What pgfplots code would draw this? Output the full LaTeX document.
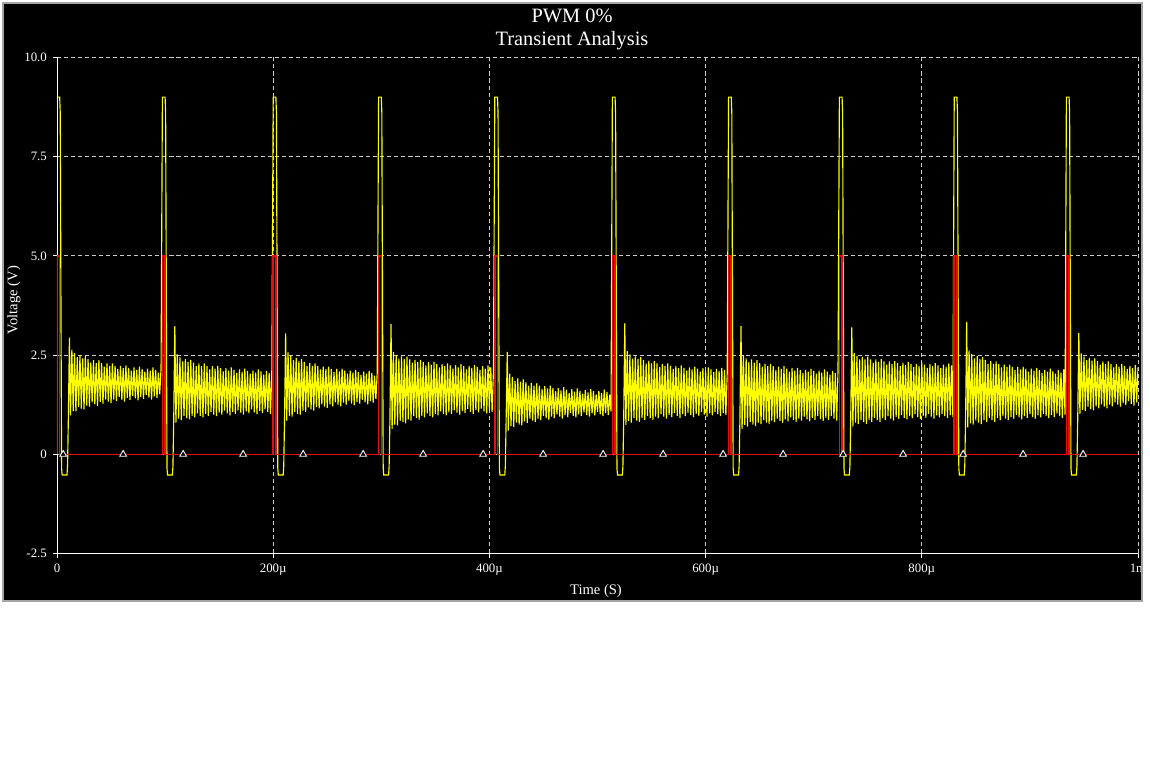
\documentclass[border=0pt]{standalone}
\usepackage{fontspec}
\setmainfont{Liberation Serif}
\usepackage{pgfplots}
\pgfplotsset{compat=1.18}
\definecolor{trace1}{RGB}{255,255,0}
\definecolor{trace2}{RGB}{228,16,16}
\definecolor{gridcol}{RGB}{205,205,205}
\definecolor{framecol}{RGB}{165,165,165}
\begin{document}
\begin{tikzpicture}
\useasboundingbox (0,0) rectangle (23,15.38);
\fill[white] (0,0) rectangle (23,15.38);
\fill[black] (0.08,3.38) rectangle (22.82,15.30);
\node[white, font=\fontsize{11.6}{13}\selectfont, anchor=base, inner sep=0pt] at (11.44,14.93) {PWM 0\%};
\node[white, font=\fontsize{11.6}{13}\selectfont, anchor=base, inner sep=0pt] at (11.44,14.46) {Transient Analysis};
\begin{axis}[
  at={(1.14cm,4.31cm)}, anchor=south west,
  scale only axis, width=21.62cm, height=9.92cm,
  xmin=0, xmax=1000, ymin=-2.5, ymax=10,
  axis lines=left, axis line style={-, white, line width=0.55pt},
  xtick={0,200,400,600,800,1000},
  xticklabels={0,200µ,400µ,600µ,800µ,1m},
  ytick={-2.5,0,2.5,5,7.5,10},
  yticklabels={-2.5,0,2.5,5.0,7.5,10.0},
  tick align=outside, major tick length=0.08cm,
  tick style={white, line width=0.55pt},
  tick label style={white, font=\fontsize{7.3}{8}\selectfont},
  grid=major,
  major grid style={gridcol, line width=0.55pt, dash pattern=on 2.3pt off 1.7pt},
  xlabel={Time (S)}, ylabel={Voltage (V)},
  label style={white, font=\fontsize{8.3}{10}\selectfont},
  xlabel style={at={(axis description cs:0.4986,-0.076)}, anchor=center},
  ylabel style={at={(axis description cs:-0.0398,0.511)}, anchor=center},
]
% output voltage (yellow)
\addplot[trace1, line width=0.65pt] coordinates {
(0,9)(2.5,9)(3,8.6)(3.25,6.7)(4.25,-0.35)(4.75,-0.52)(9.25,-0.52)(9.75,-0.3)(10.5,0.9)(11.5,2.94)
(12.5,0.98)(13.75,2.64)(15,1.09)(16.25,2.55)(17.5,1.08)(18.75,2.45)(20,1.19)(21.25,2.50)(22.5,1.15)(23.75,2.42)
(25,1.13)(26.25,2.48)(27.5,1.23)(28.75,2.40)(30,1.20)(31.25,2.31)(32.5,1.31)(33.75,2.37)(35,1.26)(36.25,2.30)
(37.5,1.22)(38.75,2.37)(40,1.32)(41.25,2.30)(42.5,1.28)(43.75,2.21)(45,1.38)(46.25,2.29)(47.5,1.33)(48.75,2.22)
(50,1.29)(51.25,2.29)(52.5,1.38)(53.75,2.23)(55,1.34)(56.25,2.15)(57.5,1.44)(58.75,2.23)(60,1.37)(61.25,2.17)
(62.5,1.33)(63.75,2.24)(65,1.42)(66.25,2.18)(67.5,1.37)(68.75,2.11)(70,1.47)(71.25,2.19)(72.5,1.41)(73.75,2.13)
(75,1.36)(76.25,2.21)(77.5,1.45)(78.75,2.15)(80,1.40)(81.25,2.08)(82.5,1.49)(83.75,2.16)(85,1.43)(86.25,2.11)
(87.5,1.38)(88.75,2.19)(90,1.46)(91.25,2.13)(92.5,1.42)(93.75,2.06)(95,1.51)(96.25,2.15)
(97.5,9)(100,9)(100.5,8.6)(100.75,6.7)(101.75,-0.35)(102.25,-0.52)(106.75,-0.52)(107.25,-0.3)(108,0.9)(109,3.23)
(110,0.80)(111.25,2.52)(112.5,0.90)(113.75,2.44)(115,0.86)(116.25,2.34)(117.5,0.97)(118.75,2.40)(120,0.91)(121.25,2.33)
(122.5,0.88)(123.75,2.38)(125,0.97)(126.25,2.31)(127.5,0.93)(128.75,2.22)(130,1.03)(131.25,2.29)(132.5,0.97)(133.75,2.22)
(135,0.93)(136.25,2.29)(137.5,1.01)(138.75,2.22)(140,0.97)(141.25,2.14)(142.5,1.07)(143.75,2.22)(145,1.00)(146.25,2.16)
(147.5,0.96)(148.75,2.23)(150,1.05)(151.25,2.17)(152.5,1.00)(153.75,2.09)(155,1.10)(156.25,2.17)(157.5,1.03)(158.75,2.11)
(160,0.98)(161.25,2.19)(162.5,1.07)(163.75,2.13)(165,1.02)(166.25,2.05)(167.5,1.11)(168.75,2.14)(170,1.05)(171.25,2.08)
(172.5,1.00)(173.75,2.16)(175,1.08)(176.25,2.10)(177.5,1.03)(178.75,2.03)(180,1.13)(181.25,2.11)(182.5,1.06)(183.75,2.06)
(185,1.01)(186.25,2.14)(187.5,1.09)(188.75,2.09)(190,1.04)(191.25,2.01)(192.5,1.13)(193.75,2.10)(195,1.07)(196.25,2.05)
(197.5,1.02)(198.75,2.13)
(200,9)(202.5,9)(203,8.6)(203.25,6.7)(204.25,-0.35)(204.75,-0.52)(209.25,-0.52)(209.75,-0.3)(210.5,0.9)(211.5,3.05)
(212.5,0.85)(213.75,2.57)(215,0.96)(216.25,2.48)(217.5,0.95)(218.75,2.37)(220,1.07)(221.25,2.43)(222.5,1.02)(223.75,2.35)
(225,1.00)(226.25,2.40)(227.5,1.10)(228.75,2.33)(230,1.07)(231.25,2.23)(232.5,1.18)(233.75,2.30)(235,1.13)(236.25,2.23)
(237.5,1.10)(238.75,2.29)(240,1.19)(241.25,2.22)(242.5,1.16)(243.75,2.14)(245,1.26)(246.25,2.21)(247.5,1.20)(248.75,2.15)
(250,1.17)(251.25,2.21)(252.5,1.26)(253.75,2.15)(255,1.21)(256.25,2.07)(257.5,1.31)(258.75,2.15)(260,1.25)(261.25,2.09)
(262.5,1.21)(263.75,2.16)(265,1.30)(266.25,2.11)(267.5,1.25)(268.75,2.03)(270,1.35)(271.25,2.11)(272.5,1.28)(273.75,2.06)
(275,1.24)(276.25,2.13)(277.5,1.32)(278.75,2.07)(280,1.28)(281.25,2.00)(282.5,1.37)(283.75,2.08)(285,1.31)(286.25,2.03)
(287.5,1.26)(288.75,2.11)(290,1.34)(291.25,2.05)(292.5,1.30)(293.75,1.98)(295,1.39)(296.25,2.07)
(297.5,9)(300,9)(300.5,8.6)(300.75,6.7)(301.75,-0.35)(302.25,-0.52)(306.75,-0.52)(307.25,-0.3)(308,0.9)(309,3.28)
(310,0.64)(311.25,2.58)(312.5,0.75)(313.75,2.50)(315,0.73)(316.25,2.41)(317.5,0.85)(318.75,2.47)(320,0.81)(321.25,2.40)
(322.5,0.78)(323.75,2.46)(325,0.88)(326.25,2.39)(327.5,0.85)(328.75,2.31)(330,0.96)(331.25,2.38)(332.5,0.91)(333.75,2.32)
(335,0.87)(336.25,2.38)(337.5,0.97)(338.75,2.32)(340,0.93)(341.25,2.24)(342.5,1.03)(343.75,2.32)(345,0.97)(346.25,2.26)
(347.5,0.93)(348.75,2.33)(350,1.02)(351.25,2.27)(352.5,0.98)(353.75,2.19)(355,1.08)(356.25,2.28)(357.5,1.02)(358.75,2.22)
(360,0.98)(361.25,2.29)(362.5,1.06)(363.75,2.24)(365,1.02)(366.25,2.16)(367.5,1.11)(368.75,2.25)(370,1.05)(371.25,2.19)
(372.5,1.00)(373.75,2.27)(375,1.09)(376.25,2.22)(377.5,1.04)(378.75,2.14)(380,1.14)(381.25,2.23)(382.5,1.07)(383.75,2.18)
(385,1.02)(386.25,2.25)(387.5,1.11)(388.75,2.20)(390,1.06)(391.25,2.13)(392.5,1.15)(393.75,2.22)(395,1.08)(396.25,2.16)
(397.5,1.03)(398.75,2.24)(400,1.12)(401.25,2.19)(402.5,1.07)(403.75,2.12)
(405,9)(407.5,9)(408,8.6)(408.25,6.7)(409.25,-0.35)(409.75,-0.52)(414.25,-0.52)(414.75,-0.3)(415.5,0.9)(416.5,2.58)
(417.5,0.60)(418.75,2.03)(420,0.71)(421.25,1.95)(422.5,0.69)(423.75,1.85)(425,0.80)(426.25,1.91)(427.5,0.75)(428.75,1.83)
(430,0.73)(431.25,1.89)(432.5,0.83)(433.75,1.82)(435,0.79)(436.25,1.73)(437.5,0.90)(438.75,1.80)(440,0.85)(441.25,1.73)
(442.5,0.81)(443.75,1.79)(445,0.90)(446.25,1.73)(447.5,0.86)(448.75,1.64)(450,0.97)(451.25,1.72)(452.5,0.91)(453.75,1.66)
(455,0.87)(456.25,1.73)(457.5,0.95)(458.75,1.67)(460,0.91)(461.25,1.59)(462.5,1.01)(463.75,1.67)(465,0.95)(466.25,1.61)
(467.5,0.90)(468.75,1.69)(470,0.99)(471.25,1.63)(472.5,0.94)(473.75,1.55)(475,1.04)(476.25,1.64)(477.5,0.97)(478.75,1.58)
(480,0.93)(481.25,1.66)(482.5,1.01)(483.75,1.60)(485,0.97)(486.25,1.53)(487.5,1.06)(488.75,1.62)(490,0.99)(491.25,1.56)
(492.5,0.95)(493.75,1.64)(495,1.03)(496.25,1.59)(497.5,0.98)(498.75,1.51)(500,1.07)(501.25,1.60)(502.5,1.01)(503.75,1.55)
(505,0.96)(506.25,1.63)(507.5,1.04)(508.75,1.57)(510,0.99)(511.25,1.50)(512.5,1.08)
(513.75,9)(516.25,9)(516.75,8.6)(517,6.7)(518,-0.35)(518.5,-0.52)(523,-0.52)(523.5,-0.3)(524.25,0.9)(525.25,3.30)
(526.25,0.74)(527.5,2.60)(528.75,0.84)(530,2.52)(531.25,0.80)(532.5,2.41)(533.75,0.91)(535,2.47)(536.25,0.85)(537.5,2.40)
(538.75,0.82)(540,2.45)(541.25,0.91)(542.5,2.38)(543.75,0.87)(545,2.29)(546.25,0.97)(547.5,2.36)(548.75,0.91)(550,2.29)
(551.25,0.87)(552.5,2.35)(553.75,0.95)(555,2.29)(556.25,0.91)(557.5,2.20)(558.75,1.01)(560,2.28)(561.25,0.95)(562.5,2.22)
(563.75,0.90)(565,2.29)(566.25,0.99)(567.5,2.23)(568.75,0.94)(570,2.15)(571.25,1.04)(572.5,2.23)(573.75,0.97)(575,2.17)
(576.25,0.92)(577.5,2.24)(578.75,1.01)(580,2.18)(581.25,0.96)(582.5,2.11)(583.75,1.05)(585,2.19)(586.25,0.99)(587.5,2.14)
(588.75,0.94)(590,2.21)(591.25,1.02)(592.5,2.16)(593.75,0.97)(595,2.08)(596.25,1.07)(597.5,2.17)(598.75,1.00)(600,2.11)
(601.25,0.95)(602.5,2.19)(603.75,1.03)(605,2.14)(606.25,0.98)(607.5,2.07)(608.75,1.07)(610,2.15)(611.25,1.01)(612.5,2.10)
(613.75,0.96)(615,2.18)(616.25,1.04)(617.5,2.13)(618.75,0.99)(620,2.05)
(621.25,9)(623.75,9)(624.25,8.6)(624.5,6.7)(625.5,-0.35)(626,-0.52)(630.5,-0.52)(631,-0.3)(631.75,0.9)(632.75,3.23)
(633.75,0.64)(635,2.50)(636.25,0.74)(637.5,2.42)(638.75,0.70)(640,2.32)(641.25,0.81)(642.5,2.39)(643.75,0.75)(645,2.31)
(646.25,0.71)(647.5,2.37)(648.75,0.80)(650,2.30)(651.25,0.76)(652.5,2.21)(653.75,0.86)(655,2.28)(656.25,0.80)(657.5,2.22)
(658.75,0.76)(660,2.28)(661.25,0.85)(662.5,2.22)(663.75,0.81)(665,2.13)(666.25,0.90)(667.5,2.21)(668.75,0.84)(670,2.15)
(671.25,0.79)(672.5,2.22)(673.75,0.88)(675,2.16)(676.25,0.83)(677.5,2.08)(678.75,0.93)(680,2.17)(681.25,0.86)(682.5,2.11)
(683.75,0.82)(685,2.18)(686.25,0.90)(687.5,2.12)(688.75,0.85)(690,2.05)(691.25,0.95)(692.5,2.13)(693.75,0.88)(695,2.08)
(696.25,0.83)(697.5,2.15)(698.75,0.91)(700,2.10)(701.25,0.87)(702.5,2.03)(703.75,0.96)(705,2.11)(706.25,0.89)(707.5,2.06)
(708.75,0.84)(710,2.14)(711.25,0.92)(712.5,2.08)(713.75,0.87)(715,2.01)(716.25,0.96)(717.5,2.10)(718.75,0.90)(720,2.05)
(721.25,0.85)(722.5,2.12)
(723.75,9)(726.25,9)(726.75,8.6)(727,6.7)(728,-0.35)(728.5,-0.52)(733,-0.52)(733.5,-0.3)(734.25,0.9)(735.25,3.20)
(736.25,0.70)(737.5,2.55)(738.75,0.80)(740,2.48)(741.25,0.76)(742.5,2.39)(743.75,0.87)(745,2.46)(746.25,0.81)(747.5,2.39)
(748.75,0.77)(750,2.46)(751.25,0.86)(752.5,2.39)(753.75,0.82)(755,2.31)(756.25,0.92)(757.5,2.39)(758.75,0.86)(760,2.33)
(761.25,0.82)(762.5,2.40)(763.75,0.91)(765,2.34)(766.25,0.87)(767.5,2.26)(768.75,0.96)(770,2.34)(771.25,0.90)(772.5,2.28)
(773.75,0.85)(775,2.35)(776.25,0.94)(777.5,2.30)(778.75,0.89)(780,2.22)(781.25,0.99)(782.5,2.31)(783.75,0.92)(785,2.25)
(786.25,0.88)(787.5,2.33)(788.75,0.96)(790,2.27)(791.25,0.91)(792.5,2.20)(793.75,1.01)(795,2.28)(796.25,0.94)(797.5,2.23)
(798.75,0.89)(800,2.31)(801.25,0.97)(802.5,2.26)(803.75,0.92)(805,2.18)(806.25,1.02)(807.5,2.27)(808.75,0.95)(810,2.22)
(811.25,0.90)(812.5,2.30)(813.75,0.98)(815,2.24)(816.25,0.93)(817.5,2.17)(818.75,1.02)(820,2.26)(821.25,0.96)(822.5,2.21)
(823.75,0.91)(825,2.29)(826.25,0.99)(827.5,2.24)(828.75,0.94)
(830,9)(832.5,9)(833,8.6)(833.25,6.7)(834.25,-0.35)(834.75,-0.52)(839.25,-0.52)(839.75,-0.3)(840.5,0.9)(841.5,3.34)
(842.5,0.68)(843.75,2.62)(845,0.78)(846.25,2.53)(847.5,0.75)(848.75,2.42)(850,0.85)(851.25,2.48)(852.5,0.80)(853.75,2.40)
(855,0.76)(856.25,2.45)(857.5,0.86)(858.75,2.38)(860,0.82)(861.25,2.28)(862.5,0.92)(863.75,2.35)(865,0.86)(866.25,2.28)
(867.5,0.82)(868.75,2.34)(870,0.91)(871.25,2.27)(872.5,0.86)(873.75,2.19)(875,0.96)(876.25,2.26)(877.5,0.90)(878.75,2.20)
(880,0.86)(881.25,2.26)(882.5,0.94)(883.75,2.20)(885,0.90)(886.25,2.12)(887.5,0.99)(888.75,2.20)(890,0.93)(891.25,2.14)
(892.5,0.88)(893.75,2.21)(895,0.96)(896.25,2.16)(897.5,0.92)(898.75,2.08)(900,1.01)(901.25,2.16)(902.5,0.94)(903.75,2.11)
(905,0.90)(906.25,2.18)(907.5,0.98)(908.75,2.12)(910,0.93)(911.25,2.05)(912.5,1.02)(913.75,2.13)(915,0.96)(916.25,2.08)
(917.5,0.91)(918.75,2.16)(920,0.99)(921.25,2.10)(922.5,0.94)(923.75,2.03)(925,1.03)(926.25,2.12)(927.5,0.96)(928.75,2.06)
(930,0.92)(931.25,2.14)(932.5,1.00)
(933.75,9)(936.25,9)(936.75,8.6)(937,6.7)(938,-0.35)(938.5,-0.52)(943,-0.52)(943.5,-0.3)(944.25,0.9)(945.25,3.06)
(946.25,1.02)(947.5,2.54)(948.75,1.12)(950,2.46)(951.25,1.09)(952.5,2.37)(953.75,1.20)(955,2.43)(956.25,1.14)(957.5,2.36)
(958.75,1.11)(960,2.42)(961.25,1.20)(962.5,2.35)(963.75,1.16)(965,2.26)(966.25,1.26)(967.5,2.34)(968.75,1.20)(970,2.27)
(971.25,1.16)(972.5,2.34)(973.75,1.25)(975,2.27)(976.25,1.21)(977.5,2.19)(978.75,1.31)(980,2.27)(981.25,1.25)(982.5,2.21)
(983.75,1.20)(985,2.28)(986.25,1.29)(987.5,2.22)(988.75,1.24)(990,2.15)(991.25,1.34)(992.5,2.23)(993.75,1.27)(995,2.17)
(996.25,1.23)(997.5,2.25)(998.75,1.31)(1000,2.19)
};
% PWM drive (red)
\addplot[trace2, line width=0.9pt] coordinates {
(0,0)(0,5)(2.5,5)(2.5,0)(97.5,0)(97.5,5)(100,5)(100,0)(200,0)(200,5)(202.5,5)(202.5,0)
(297.5,0)(297.5,5)(300,5)(300,0)(405,0)(405,5)(407.5,5)(407.5,0)(513.75,0)(513.75,5)(516.25,5)(516.25,0)
(621.25,0)(621.25,5)(623.75,5)(623.75,0)(723.75,0)(723.75,5)(726.25,5)(726.25,0)(830,0)(830,5)(832.5,5)(832.5,0)
(933.75,0)(933.75,5)(936.25,5)(936.25,0)(1000,0)
};
% trace markers
\addplot[only marks, mark=triangle*, mark size=2.2pt, mark options={draw=white, fill=black, line width=0.5pt}] coordinates {
(5.7,0)(61.2,0)(116.7,0)(172.2,0)(227.7,0)(283.2,0)(338.7,0)(394.2,0)(449.7,0)
(505.2,0)(560.7,0)(616.2,0)(671.7,0)(727.2,0)(782.7,0)(838.2,0)(893.7,0)(949.2,0)
};
\end{axis}
\fill[white] (22.85,3.2) rectangle (23,15.38);
\draw[framecol, line width=0.04cm] (0.06,3.36) rectangle (22.84,15.32);
\end{tikzpicture}
\end{document}
